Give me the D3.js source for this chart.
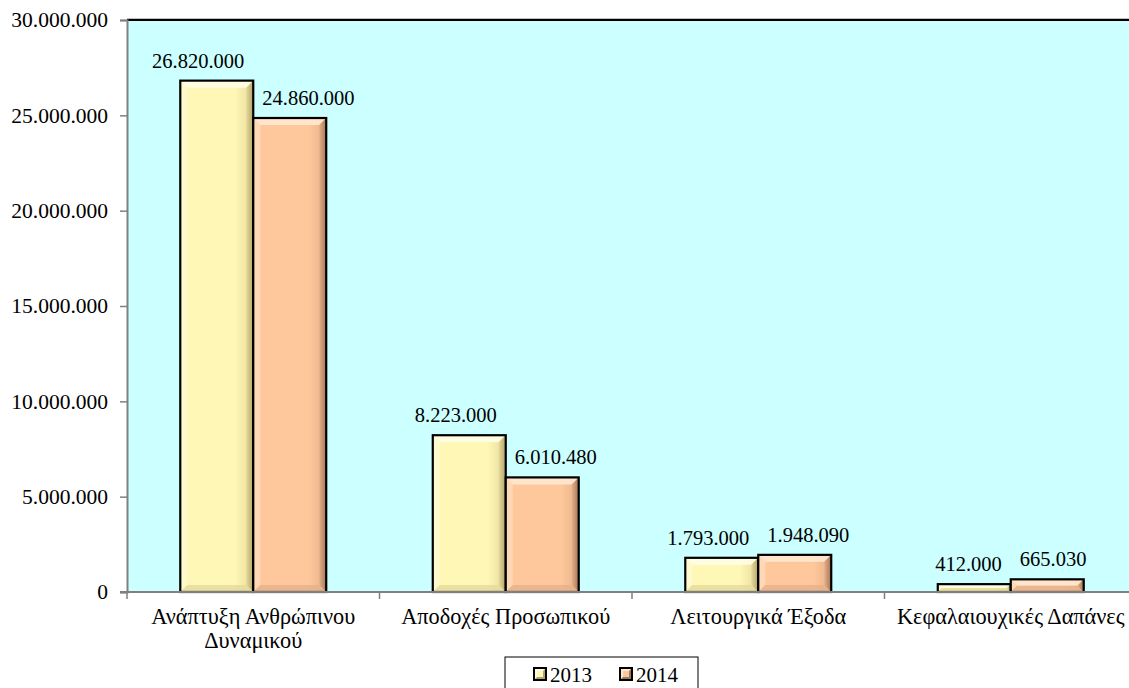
<!DOCTYPE html>
<html><head><meta charset="utf-8">
<script src="https://cdn.jsdelivr.net/npm/d3@7"></script>
<style>body{margin:0;background:#fff;}</style>
</head>
<body><svg id="c" width="1129" height="688"></svg>
<script>
const categories = [["Ανάπτυξη Ανθρώπινου","Δυναμικού"],["Αποδοχές Προσωπικού"],["Λειτουργικά Έξοδα"],["Κεφαλαιουχικές Δαπάνες"]];
const seriesNames = ["2013","2014"];
const values2013 = [26820000, 8223000, 1793000, 412000];
const values2014 = [24860000, 6010480, 1948090, 665030];
const yTicks = [0, 5000000, 10000000, 15000000, 20000000, 25000000, 30000000];

const W=1129,H=688;
const FF='"Liberation Serif"';
const FS_AX=21.5, FS_VAL=20.5, FS_CAT=22.3, FS_LEG=21;
const m={l:127,t:20,r:1137,b:592};
const svg=d3.select("#c");
const loc=d3.formatLocale({decimal:",",thousands:".",grouping:[3],currency:["",""]});
const fmt=loc.format(",d");
function tx(sel,fs){return sel.style("font-family",FF).style("font-size",fs+"px").attr("fill","#000");}

const catKeys=categories.map((c,i)=>i);
const x0=d3.scaleBand().domain(catKeys).range([m.l,m.r]).padding(0);
const x1=d3.scaleBand().domain(seriesNames).range([0,x0.bandwidth()]).paddingInner(0).paddingOuter(0.73);
const y=d3.scaleLinear().domain([0,30000000]).range([m.b,m.t]);

const defs=svg.append("defs");
const colors={"2013":{base:"#FFF7B6",light:"#FFFDE6",dark:"#B0A36A",mid:"#E6DA9A"},
              "2014":{base:"#FFC89C",light:"#FFE8D2",dark:"#A27758",mid:"#E6B08A"}};
seriesNames.forEach(s=>{
  const c=colors[s];
  const g=defs.append("linearGradient").attr("id","g"+s).attr("x1","0").attr("x2","1").attr("y1","0").attr("y2","0");
  g.append("stop").attr("offset","0").attr("stop-color",c.base);
  g.append("stop").attr("offset","0.75").attr("stop-color",c.base);
  g.append("stop").attr("offset","1").attr("stop-color",c.mid);
  const gr=defs.append("linearGradient").attr("id","gr"+s).attr("x1","0").attr("x2","1").attr("y1","0").attr("y2","0");
  gr.append("stop").attr("offset","0").attr("stop-color",c.mid);
  gr.append("stop").attr("offset","1").attr("stop-color",c.dark);
});

svg.append("rect").attr("x",m.l).attr("y",m.t).attr("width",m.r-m.l).attr("height",m.b-m.t).attr("fill","#CCFFFF");
svg.append("line").attr("x1",m.l).attr("x2",W).attr("y1",m.t-1.5).attr("y2",m.t-1.5).attr("stroke","#c0c0c0").attr("stroke-width",1);
svg.append("line").attr("x1",m.l).attr("x2",W).attr("y1",m.t).attr("y2",m.t).attr("stroke","#000").attr("stroke-width",2);

const bw=x1.bandwidth();
const bev=7;
const gb=svg.append("g");
const gl=svg.append("g");
catKeys.forEach(i=>{
  const pair=[{s:"2013",v:values2013[i]},{s:"2014",v:values2014[i]}];
  const labels=[];
  pair.forEach(d=>{
    const x=x0(i)+x1(d.s), yt=y(d.v), yb=y(0), w=bw, h=yb-yt;
    const c=colors[d.s];
    const g=gb.append("g");
    g.append("rect").attr("x",x).attr("y",yt).attr("width",w).attr("height",h).attr("fill",`url(#g${d.s})`);
    const b=Math.min(bev,h/2,w/2);
    g.append("polygon").attr("points",[[x,yt],[x+w,yt],[x+w-b,yt+b],[x+b,yt+b]].join(" ")).attr("fill",c.light).attr("opacity",0.9);
    g.append("polygon").attr("points",[[x,yt],[x+b,yt+b],[x+b,yb-b],[x,yb]].join(" ")).attr("fill",c.light).attr("opacity",0.5);
    g.append("polygon").attr("points",[[x+w,yt],[x+w,yb],[x+w-b,yb-b],[x+w-b,yt+b]].join(" ")).attr("fill",`url(#gr${d.s})`);
    g.append("polygon").attr("points",[[x,yb],[x+w,yb],[x+w-b,yb-b],[x+b,yb-b]].join(" ")).attr("fill",c.mid).attr("opacity",0.8);
    g.append("rect").attr("x",x).attr("y",yt).attr("width",w).attr("height",h).attr("fill","none").attr("stroke","#000").attr("stroke-width",2.2);
    const t=tx(gl.append("text").attr("x",x+w/2).attr("y",yt-13).attr("text-anchor","middle"),FS_VAL).text(fmt(d.v));
    labels.push({t,cx:x+w/2,w:t.node().getComputedTextLength()});
  });
  const need=(labels[0].w+labels[1].w)/2+18-(labels[1].cx-labels[0].cx);
  if(need>0){
    labels[0].t.attr("x",labels[0].cx-need/2);
    labels[1].t.attr("x",labels[1].cx+need/2);
  }
});

const ya=svg.append("g").attr("transform",`translate(${m.l},0)`)
 .call(d3.axisLeft(y).tickValues(yTicks).tickSize(7).tickPadding(12).tickFormat(v=>v===0?"0":fmt(v)));
ya.select(".domain").attr("stroke","#808080").attr("stroke-width",2);
ya.selectAll(".tick line").attr("stroke","#808080").attr("stroke-width",1.5);
tx(ya.selectAll("text"),FS_AX);

const xa=svg.append("g").attr("transform",`translate(0,${m.b})`);
xa.append("line").attr("x1",m.l-7).attr("x2",W).attr("y1",0).attr("y2",0).attr("stroke","#808080").attr("stroke-width",2);
catKeys.forEach(i=>{
  xa.append("line").attr("x1",x0(i)).attr("x2",x0(i)).attr("y1",0).attr("y2",7).attr("stroke","#808080").attr("stroke-width",1.5);
  const cx=x0(i)+x0.bandwidth()/2;
  const t=tx(xa.append("text").attr("x",cx).attr("text-anchor","middle"),FS_CAT);
  categories[i].forEach((ln,j)=>t.append("tspan").attr("x",cx).attr("y",32+j*24).text(ln));
});

const lg=svg.append("g");
lg.append("rect").attr("x",505).attr("y",657).attr("width",193).attr("height",40).attr("fill","#fff").attr("stroke","#000").attr("stroke-width",1);
const lx=[534,620];
seriesNames.forEach((s,i)=>{
  const c=colors[s];
  const gg=lg.append("g").attr("transform",`translate(${lx[i]},668)`);
  gg.append("rect").attr("x",0).attr("y",0).attr("width",12).attr("height",12).attr("fill",c.dark).attr("stroke","#000").attr("stroke-width",2);
  gg.append("polygon").attr("points","1,1 11,1 1,11").attr("fill",c.light);
  gg.append("rect").attr("x",3).attr("y",3).attr("width",6).attr("height",6).attr("fill",c.base);
  tx(lg.append("text").attr("x",lx[i]+16).attr("y",682),FS_LEG).text(s);
});
</script></body></html>
